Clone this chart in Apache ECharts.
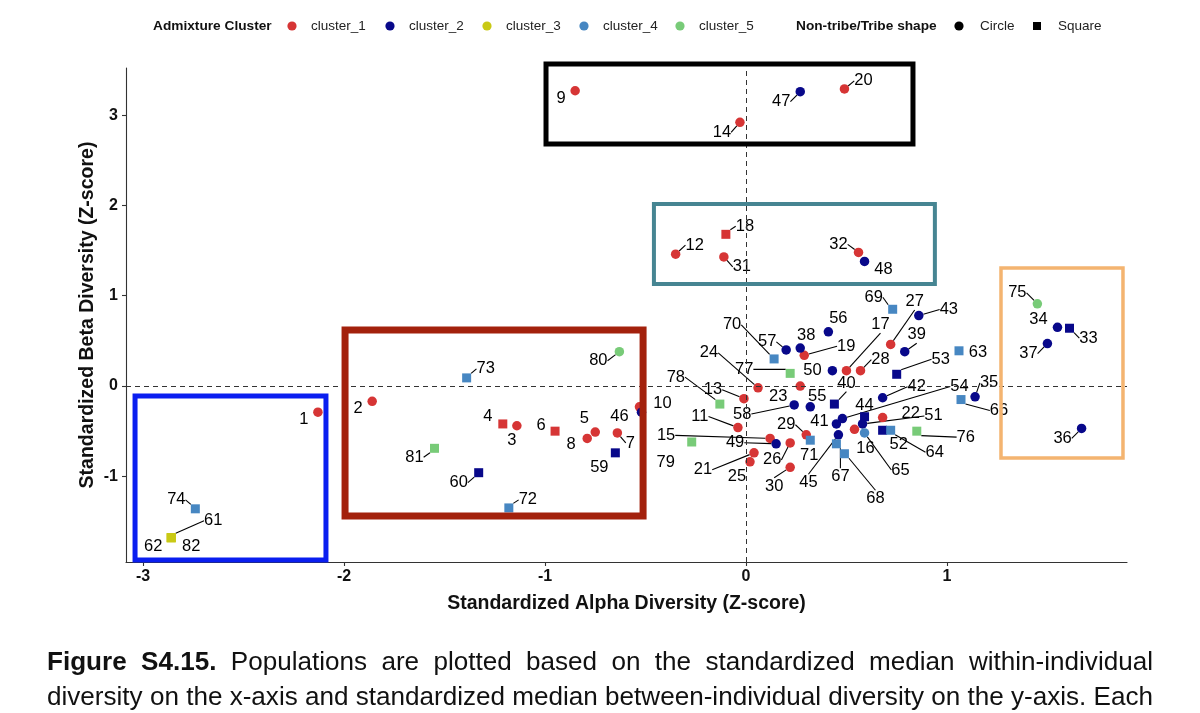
<!DOCTYPE html>
<html><head><meta charset="utf-8">
<script src="https://cdn.jsdelivr.net/npm/echarts@6/dist/echarts.min.js"></script>
<style>html,body{margin:0;padding:0;background:#fff}#c{width:1200px;height:713px}</style>
</head><body><div id="c"></div>
<script>
// ---------- data ----------
const ids = [];
for (let k = 1; k <= 82; k++) ids.push(k);
const clusters = [1,1,1,1,1,1,1,1,1,1, 1,1,1,1,1,1,1,1,1,1, 1,1,1,1,1,1,1,1,1,1, 1,1,2,2,2,2,2,2,2,2, 2,2,2,2,2,2,2,2,2,2, 2,2,2,2,2,2,2,2,2,2, 3,3,4,4,4,4,4,4,4,4, 4,4,4,4,5,5,5,5,5,5, 5,3];
const shapes = ['c','c','c','s','c','s','c','c','c','c', 'c','c','c','c','c','c','c','s','c','c', 'c','c','c','c','c','c','c','c','c','c', 'c','c','s','c','c','c','c','c','c','s', 'c','c','c','s','c','c','c','c','c','c', 'c','s','s','c','c','c','c','c','s','s', 's','s','s','s','c','s','s','s','s','s', 's','s','s','s','c','s','s','s','s','c', 's','s'];
const alphaZ = [-2.13,-1.86,-1.14,-1.21,-0.75,-0.95,-0.64,-0.79,-0.85,-0.53,
  -0.04,-0.35,-0.01,-0.03,0.12,0.54,0.50,-0.10,0.29,0.49,
  0.04,0.68,0.27,0.06,0.02,0.22,0.72,0.57,0.30,0.22,
  -0.11,0.56,1.61,1.55,1.14,1.67,1.50,0.27,0.79,0.44,
  0.45,0.68,0.86,0.59,0.46,-0.52,0.27,0.59,0.15,0.43,
  0.58,0.68,0.75,0.48,0.32,0.41,0.20,0.24,-0.65,-1.33,
  -2.86,-2.86,1.06,0.72,0.59,1.07,0.45,0.49,0.73,0.14,
  0.32,-1.18,-1.39,-2.74,1.45,0.85,0.22,-0.13,-0.27,-0.63,
  -1.55,-2.86];
const betaZ = [-0.29,-0.17,-0.44,-0.42,-0.51,-0.50,-0.52,-0.58,3.27,-0.23,
  -0.46,1.46,-0.14,2.92,-0.58,-0.48,0.17,1.68,0.34,3.29,
  -0.74,-0.35,0.00,-0.02,-0.84,-0.63,0.46,0.17,-0.54,-0.90,
  1.43,1.48,0.64,0.65,-0.12,-0.47,0.47,0.42,0.38,-0.20,
  -0.42,-0.13,0.78,-0.34,-0.54,-0.29,3.26,1.38,-0.64,0.17,
  -0.42,-0.49,0.13,-0.36,-0.23,0.60,0.40,-0.21,-0.74,-0.96,
  -1.68,-1.68,0.39,-0.49,-0.52,-0.15,-0.64,-0.75,0.85,0.30,
  -0.60,-1.35,0.09,-1.36,0.91,-0.50,0.14,-0.20,-0.62,0.38,
  -0.69,-1.68];
const xTicks = [-3, -2, -1, 0, 1];
const yTicks = [-1, 0, 1, 2, 3];
const clusterNames = ['cluster_1', 'cluster_2', 'cluster_3', 'cluster_4', 'cluster_5'];
const shapeNames = ['Circle', 'Square'];
// highlight boxes (data coordinates)
const boxX1 = [-0.995, -0.458, -1.995, -3.040, 1.269];
const boxX2 = [0.831, 0.940, -0.512, -2.090, 1.876];
const boxY1 = [3.566, 2.016, 0.620, -0.111, 1.307];
const boxY2 = [2.680, 1.130, -1.440, -1.927, -0.797];
const captionLine1 = ['Figure', 'S4.15.', 'Populations', 'are', 'plotted', 'based', 'on', 'the', 'standardized', 'median', 'within-individual'];
const captionLine2 = 'diversity on the x-axis and standardized median between-individual diversity on the y-axis. Each';

// ---------- layout / style ----------
const labelDx = [-14,-14,-5,-15,-11,-14,13,-16,-14,23, -38,19,-31,-18,-104,11,34,19,42,19,
  -51,28,-22,-49,-13,-18,24,20,-20,-16, 18,-20,19,-19,14,-19,-19,6,12,12,
  -17,34,30,0,-30,-22,-19,19,-41,-20, 71,16,44,117,7,10,-19,-52,-16,-20,
  42,-18,19,44,36,38,4,31,-19,-42, -1,19,19,-19,-20,49,-46,-44,-26,-21, -20,20];
const labelDy = [7,7,15,-7,-14,-6,10,6,8,-3, -11,-9,-9,10,-3,19,-46,-8,-9,-8,
  17,-4,10,-35,15,17,-43,-11,-10,19, 10,-8,10,-8,-14,10,10,-13,-17,-21,
  -2,-11,-6,-11,48,4,10,8,-1,0, -8,14,-15,-32,-10,-13,-8,9,15,10,
  -17,9,2,22,37,11,33,45,-12,-34, 15,-8,-9,-9,-11,6,-4,-27,20,9, 9,9];
const noLine = [1,2,3,4,5,6,8,9,10,16,22,23,25,34,38,41,44,46,48,50,52,55,56,59,62,63,71,79,82];
const clusterColors = ['#D63535', '#08088A', '#C9C915', '#4787C2', '#78CB78'];
const boxColors = ['#000000', '#468592', '#A3210C', '#0A1EF0', '#F4B470'];
const boxWidths = [5, 4, 7, 5, 3.5];
const FONT = "'Liberation Sans', Arial, Helvetica, sans-serif";

const chart = echarts.init(document.getElementById('c'), null, {renderer: 'canvas'});

const seriesData = ids.map((id, i) => ({
  value: [alphaZ[i], betaZ[i]],
  name: String(id),
  symbol: shapes[i] === 's' ? 'rect' : 'circle',
  symbolSize: shapes[i] === 's' ? 9 : 9.5,
  itemStyle: {color: clusterColors[clusters[i] - 1], opacity: 1},
  labelLine: {show: noLine.indexOf(id) < 0}
}));

chart.setOption({
  animation: false,
  backgroundColor: '#fff',
  grid: {left: 126, right: 73, top: 68, bottom: 151, containLabel: false},
  xAxis: {
    type: 'value', min: -3.085, max: 1.896,
    name: 'Standardized Alpha Diversity (Z-score)', nameLocation: 'middle', nameGap: 32,
    nameMoveOverlap: false,
    nameTextStyle: {fontFamily: FONT, fontWeight: 'bold', fontSize: 19.5, color: '#111'},
    axisLine: {show: true, onZero: false, lineStyle: {color: '#333', width: 1.1}},
    axisTick: {show: true, customValues: xTicks, length: 4, lineStyle: {color: '#333', width: 1.1}},
    axisLabel: {customValues: xTicks, margin: 7, fontFamily: FONT, fontWeight: 'bold', fontSize: 16, color: '#111'},
    splitLine: {show: false}
  },
  yAxis: {
    type: 'value', min: -1.949, max: 3.522,
    name: 'Standardized Beta Diversity (Z-score)', nameLocation: 'middle', nameGap: 28,
    nameMoveOverlap: false,
    nameTextStyle: {fontFamily: FONT, fontWeight: 'bold', fontSize: 19.5, color: '#111'},
    axisLine: {show: true, onZero: false, lineStyle: {color: '#333', width: 1.1}},
    axisTick: {show: true, customValues: yTicks, length: 4, lineStyle: {color: '#333', width: 1.1}},
    axisLabel: {customValues: yTicks, margin: 8, fontFamily: FONT, fontWeight: 'bold', fontSize: 16, color: '#111'},
    splitLine: {show: false}
  },
  series: [{
    type: 'scatter',
    data: seriesData,
    itemStyle: {opacity: 1},
    label: {
      show: true, position: 'inside', formatter: p => p.name,
      fontFamily: FONT, fontSize: 16.5, color: '#000', textBorderWidth: 0, opacity: 1
    },
    labelLine: {show: true, length2: 0, lineStyle: {color: '#000', width: 1.1, opacity: 1}},
    labelLayout: function (p) {
      const i = p.dataIndex;
      const cx = p.rect.x + p.rect.width / 2;
      const cy = p.rect.y + p.rect.height / 2;
      return {x: cx + labelDx[i], y: cy + labelDy[i], align: 'center', verticalAlign: 'middle'};
    },
    emphasis: {disabled: true},
    markLine: {
      silent: true, symbol: 'none', animation: false,
      label: {show: false},
      lineStyle: {type: [5, 4], color: '#333', width: 1, opacity: 1},
      data: [{xAxis: 0}, {yAxis: 0}]
    },
    z: 3
  }]
});

// ---------- graphics: boxes, legend, caption ----------
const g = [];
for (let b = 0; b < boxX1.length; b++) {
  const p1 = chart.convertToPixel({gridIndex: 0}, [boxX1[b], boxY1[b]]);
  const p2 = chart.convertToPixel({gridIndex: 0}, [boxX2[b], boxY2[b]]);
  g.push({type: 'rect', z: 100, silent: true,
    shape: {x: p1[0], y: p1[1], width: p2[0] - p1[0], height: p2[1] - p1[1]},
    style: {fill: 'none', stroke: boxColors[b], lineWidth: boxWidths[b]}});
}
// legend
const LY = 26;
g.push({type: 'text', z: 100, x: 153, y: LY, style: {text: 'Admixture Cluster', font: "bold 13.7px " + FONT, fill: '#111', align: 'left', verticalAlign: 'middle'}});
const dotX = [292, 390, 487, 584, 680];
clusterNames.forEach((n, k) => {
  g.push({type: 'circle', z: 100, shape: {cx: dotX[k], cy: LY, r: 4.6}, style: {fill: clusterColors[k]}});
  g.push({type: 'text', z: 100, x: dotX[k] + 19, y: LY, style: {text: n, font: "13.5px " + FONT, fill: '#222', align: 'left', verticalAlign: 'middle'}});
});
g.push({type: 'text', z: 100, x: 796, y: LY, style: {text: 'Non-tribe/Tribe shape', font: "bold 13.7px " + FONT, fill: '#111', align: 'left', verticalAlign: 'middle'}});
g.push({type: 'circle', z: 100, shape: {cx: 959, cy: LY, r: 4.6}, style: {fill: '#000'}});
g.push({type: 'text', z: 100, x: 980, y: LY, style: {text: shapeNames[0], font: "13.5px " + FONT, fill: '#222', align: 'left', verticalAlign: 'middle'}});
g.push({type: 'rect', z: 100, shape: {x: 1033, y: LY - 4, width: 8, height: 8}, style: {fill: '#000'}});
g.push({type: 'text', z: 100, x: 1058, y: LY, style: {text: shapeNames[1], font: "13.5px " + FONT, fill: '#222', align: 'left', verticalAlign: 'middle'}});

// caption (justified)
const ctx = document.createElement('canvas').getContext('2d');
function tw(t, font) { ctx.font = font; return ctx.measureText(t).width; }
const CL = 47, CR = 1153;
const words2 = captionLine2.split(' ');
let fs = 26;
const nat2 = tw(captionLine2, fs + 'px ' + FONT);
fs = fs * (CR - CL) / nat2;
function placeLine(words, y, boldCount) {
  const fonts = words.map((w, k) => (k < boldCount ? 'bold ' : '') + fs.toFixed(2) + 'px ' + FONT);
  const widths = words.map((w, k) => tw(w, fonts[k]));
  const total = widths.reduce((a, b) => a + b, 0);
  const gap = (CR - CL - total) / (words.length - 1);
  let x = CL;
  words.forEach((w, k) => {
    g.push({type: 'text', z: 100, x: x, y: y, style: {text: w, font: fonts[k], fill: '#111', align: 'left', verticalAlign: 'middle'}});
    x += widths[k] + gap;
  });
}
placeLine(captionLine1, 663, 2);
placeLine(words2, 698, 0);

chart.setOption({graphic: {elements: g}});
</script>
</body></html>
